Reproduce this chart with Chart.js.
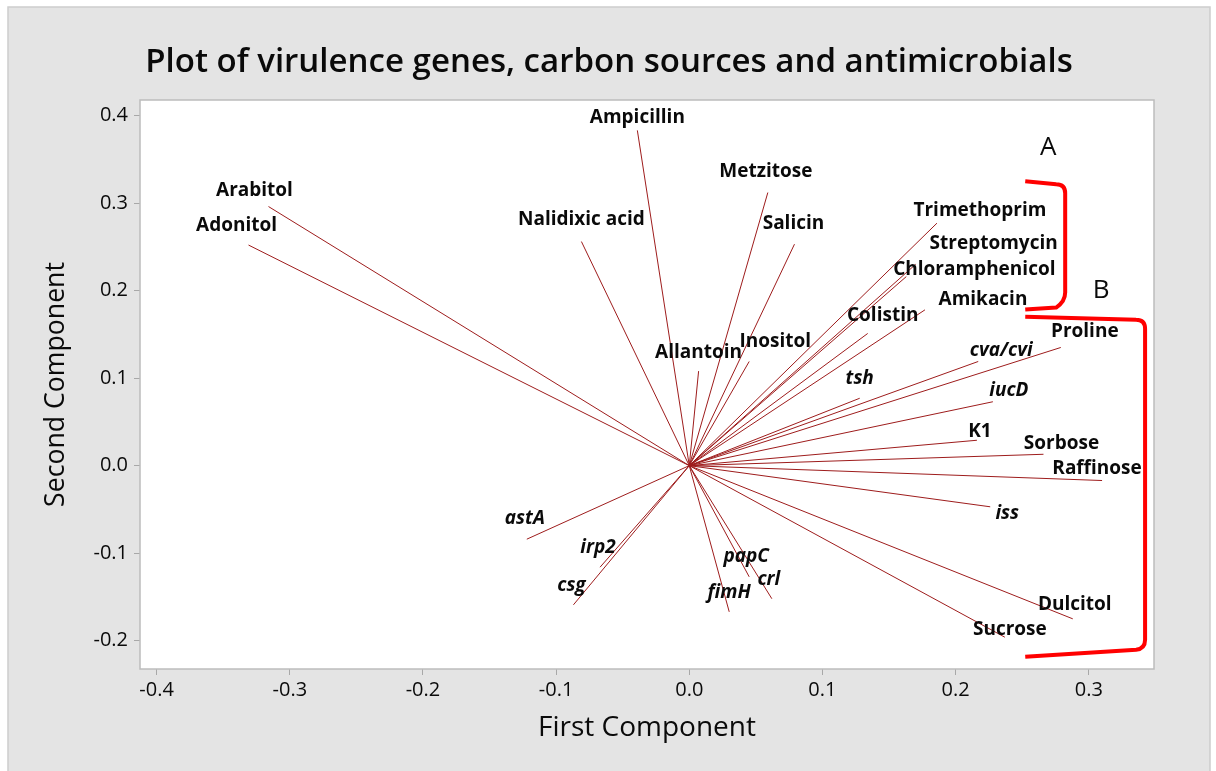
<!DOCTYPE html>
<html>
<head>
<meta charset="utf-8">
<title>Plot of virulence genes, carbon sources and antimicrobials</title>
<script src="https://cdn.jsdelivr.net/npm/chart.js@4.4.1/dist/chart.umd.min.js"></script>
<style>
  html, body { margin: 0; padding: 0; background: #ffffff; }
  canvas { display: block; }
</style>
</head>
<body>
<canvas id="plot" width="1216" height="771"></canvas>
<script>
// Loading vectors: variable names and their first / second component loadings
const variables = [
  'Arabitol', 'Adonitol', 'Ampicillin', 'Nalidixic acid', 'Metzitose', 'Salicin',
  'Allantoin', 'Inositol', 'Trimethoprim', 'Streptomycin', 'Chloramphenicol', 'Amikacin',
  'Colistin', 'Proline', 'cva/cvi', 'tsh', 'iucD', 'K1', 'Sorbose', 'Raffinose',
  'iss', 'Dulcitol', 'Sucrose', 'astA', 'irp2', 'csg', 'papC', 'crl', 'fimH'
];
const firstComponent = [
  -0.316, -0.331, -0.039, -0.081, 0.059, 0.079,
  0.007, 0.045, 0.186, 0.170, 0.163, 0.177,
  0.134, 0.279, 0.217, 0.128, 0.228, 0.216, 0.266, 0.310,
  0.226, 0.288, 0.237, -0.122, -0.067, -0.087, 0.045, 0.062, 0.030
];
const secondComponent = [
  0.296, 0.252, 0.383, 0.256, 0.312, 0.253,
  0.108, 0.119, 0.277, 0.230, 0.216, 0.178,
  0.151, 0.135, 0.119, 0.077, 0.073, 0.029, 0.013, -0.017,
  -0.047, -0.175, -0.196, -0.084, -0.116, -0.159, -0.127, -0.152, -0.167
];
// Gene names are set in italics
const geneNames = ['cva/cvi', 'tsh', 'iucD', 'iss', 'astA', 'irp2', 'csg', 'papC', 'crl', 'fimH'];

// Axis tick values
const xTicks = [-0.4, -0.3, -0.2, -0.1, 0.0, 0.1, 0.2, 0.3];
const yTicks = [-0.2, -0.1, 0.0, 0.1, 0.2, 0.3, 0.4];

// Group brackets (data coordinates of their corners)
const groups = [
  { name: 'A', x0: 0.2523, x1: 0.2823, yTop: 0.3249, yBot: 0.1783 },
  { name: 'B', x0: 0.2523, x1: 0.3423, yTop: 0.1700, yBot: -0.2183 }
];

// ---- layout / style ----
const FONT = '"Open Sans", "Noto Sans", "DejaVu Sans", sans-serif';
const LINE_COLOR = 'rgb(158, 28, 28)';
// label placement: pixel offset of each label's centre from its vector tip
const labelOffsets = [
  [-14, -16], [-12, -19], [0, -13], [0, -22], [-2, -21], [-1, -21],
  [0, -19], [26, -20], [43, -13], [78, -21], [68, -7], [58, -10],
  [15, -18], [24, -16], [23, -11], [0, -20], [16, -11], [3, -9], [18, -11], [-5, -12],
  [17, 7], [2, -14], [5, -8], [-2, -21], [-2, -20], [-2, -19], [-3, -20], [-3, -19], [0, -19]
];
const groupLabelOffsets = [[ -17, -34 ], [ -44, -26 ]];

function fitFont(ctx, text, weight, style, target) {
  ctx.font = `${style} ${weight} 100px ${FONT}`;
  const w = ctx.measureText(text).width;
  return 100 * target / w;
}

const framePlugin = {
  id: 'frame',
  beforeDraw(chart) {
    const { ctx, chartArea: a } = chart;
    ctx.save();
    ctx.fillStyle = '#ffffff';
    ctx.fillRect(0, 0, chart.width, chart.height);
    ctx.fillStyle = '#e4e4e4';
    ctx.fillRect(8, 7, 1202, 770);
    ctx.strokeStyle = '#cdcdcd';
    ctx.lineWidth = 1.5;
    ctx.strokeRect(8, 7, 1202, 770);
    ctx.fillStyle = '#ffffff';
    ctx.fillRect(a.left, a.top, a.right - a.left, a.bottom - a.top);
    ctx.restore();
  },
  afterDraw(chart) {
    const { ctx, chartArea: a } = chart;
    ctx.save();
    ctx.strokeStyle = '#bcbcbc';
    ctx.lineWidth = 1.5;
    ctx.strokeRect(a.left, a.top, a.right - a.left, a.bottom - a.top);

    // title and axis titles
    const title = 'Plot of virulence genes, carbon sources and antimicrobials';
    let fs = fitFont(ctx, title, 600, 'normal', 928);
    ctx.font = `normal 600 ${fs}px ${FONT}`;
    ctx.fillStyle = '#0a0a0a';
    ctx.textAlign = 'center';
    ctx.textBaseline = 'alphabetic';
    ctx.fillText(title, 609, 72);

    const xt = 'First Component';
    fs = fitFont(ctx, xt, 500, 'normal', 218);
    ctx.font = `normal 500 ${fs}px ${FONT}`;
    ctx.textBaseline = 'middle';
    ctx.fillText(xt, (a.left + a.right) / 2, 728);

    const yt = 'Second Component';
    fs = fitFont(ctx, yt, 500, 'normal', 245);
    ctx.font = `normal 500 ${fs}px ${FONT}`;
    ctx.translate(56, (a.top + a.bottom) / 2);
    ctx.rotate(-Math.PI / 2);
    ctx.fillText(yt, 0, 0);
    ctx.restore();
  }
};

const annotationPlugin = {
  id: 'annotations',
  afterDatasetsDraw(chart) {
    const { ctx, scales: { x, y } } = chart;
    ctx.save();
    // vector labels
    ctx.fillStyle = '#0a0a0a';
    ctx.textAlign = 'center';
    ctx.textBaseline = 'middle';
    variables.forEach((name, i) => {
      const px = x.getPixelForValue(firstComponent[i]);
      const py = y.getPixelForValue(secondComponent[i]);
      const italic = geneNames.includes(name) ? 'italic' : 'normal';
      ctx.font = `${italic} 700 19px ${FONT}`;
      ctx.fillText(name, px + labelOffsets[i][0], py + labelOffsets[i][1]);
    });

    // group brackets
    ctx.strokeStyle = '#ff0000';
    ctx.lineWidth = 4;
    ctx.lineJoin = 'round';
    ctx.lineCap = 'butt';
    groups.forEach((g, k) => {
      const L = x.getPixelForValue(g.x0);
      const R = x.getPixelForValue(g.x1);
      const T = y.getPixelForValue(g.yTop);
      const B = y.getPixelForValue(g.yBot);
      const r = 9;
      ctx.beginPath();
      ctx.moveTo(L, T);
      ctx.lineTo(R - r, T + 3);
      ctx.quadraticCurveTo(R, T + 3, R, T + 3 + r);
      ctx.lineTo(R, B - 8 - r);
      ctx.quadraticCurveTo(R, B - 8, R - r, B - 8 + (k === 1 ? 1 : 6));
      ctx.lineTo(L, B);
      ctx.stroke();

      ctx.fillStyle = '#0a0a0a';
      ctx.font = `normal 400 26px ${FONT}`;
      ctx.fillText(g.name, R + groupLabelOffsets[k][0], T + groupLabelOffsets[k][1]);
    });
    ctx.restore();
  }
};

function keepTicks(values) {
  return scale => {
    scale.ticks = values.map(v => ({ value: v }));
  };
}

const tickFont = { family: FONT, size: 20, weight: 400 };

new Chart(document.getElementById('plot'), {
  type: 'scatter',
  data: {
    datasets: variables.map((name, i) => ({
      label: name,
      data: [{ x: 0, y: 0 }, { x: firstComponent[i], y: secondComponent[i] }],
      showLine: true,
      borderColor: LINE_COLOR,
      borderWidth: 1,
      pointRadius: 0,
      fill: false
    }))
  },
  options: {
    responsive: false,
    animation: false,
    devicePixelRatio: 1,
    layout: { padding: { left: 0, top: 100, right: 62, bottom: 0 } },
    plugins: { legend: { display: false }, tooltip: { enabled: false } },
    scales: {
      x: {
        type: 'linear',
        min: -0.4125,
        max: 0.349,
        afterFit(s) { s.height = 102; },
        afterBuildTicks: keepTicks(xTicks),
        ticks: {
          callback: v => v.toFixed(1),
          font: tickFont, color: '#0a0a0a', padding: 3,
          maxRotation: 0, autoSkip: false
        },
        grid: { drawOnChartArea: false, drawTicks: true, tickLength: 6, color: '#a8a8a8' },
        border: { display: false }
      },
      y: {
        type: 'linear',
        min: -0.2323,
        max: 0.4177,
        afterFit(s) { s.width = 140; },
        afterBuildTicks: keepTicks(yTicks),
        ticks: {
          callback: v => v.toFixed(1),
          font: tickFont, color: '#0a0a0a', padding: 6,
          autoSkip: false
        },
        grid: { drawOnChartArea: false, drawTicks: true, tickLength: 6, color: '#a8a8a8' },
        border: { display: false }
      }
    }
  },
  plugins: [framePlugin, annotationPlugin]
});
</script>
</body>
</html>
